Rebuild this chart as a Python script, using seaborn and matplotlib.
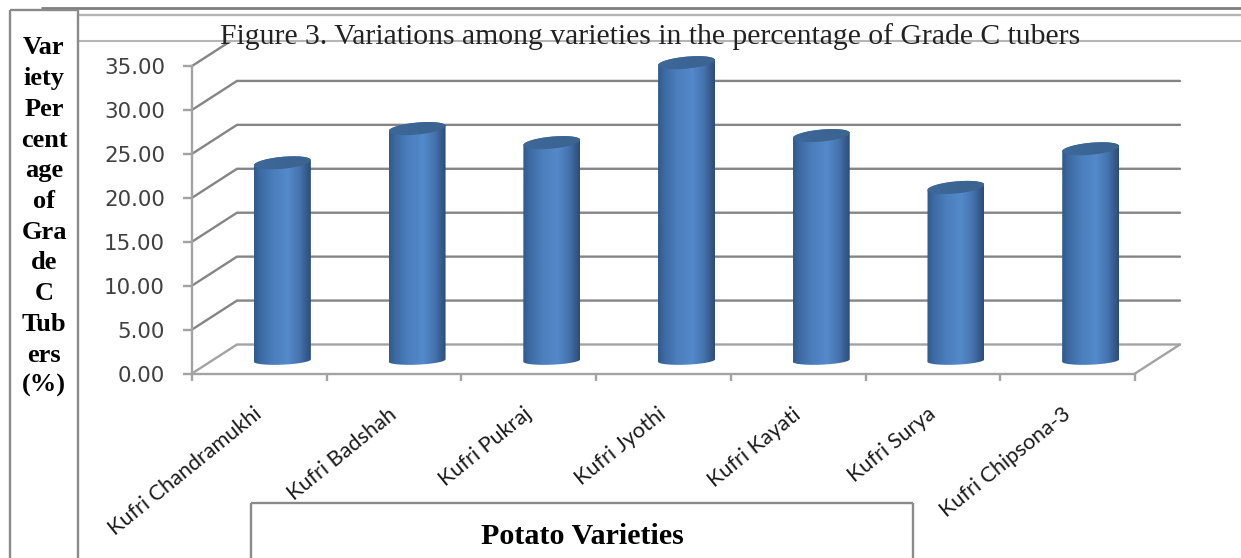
import numpy as np
import matplotlib
matplotlib.use("Agg")
import matplotlib.pyplot as plt
from matplotlib.colors import LinearSegmentedColormap
from matplotlib.lines import Line2D
from matplotlib.patches import PathPatch, Rectangle
from matplotlib.path import Path
from matplotlib.transforms import ScaledTranslation
import pandas as pd
import seaborn as sns

varieties = ["Kufri Chandramukhi", "Kufri Badshah", "Kufri Pukraj", "Kufri Jyothi",
             "Kufri Kayati", "Kufri Surya", "Kufri Chipsona-3"]
grade_c_percent = [22.5, 26.4, 24.8, 33.9, 25.6, 19.7, 24.1]
y_ticks = [0, 5, 10, 15, 20, 25, 30, 35]
title_text = "Figure 3. Variations among varieties in the percentage of Grade C tubers"
side_label = ["Var", "iety", "Per", "cent", "age", "of", "Gra", "de", "C", "Tub", "ers", "(%)"]
bottom_label = "Potato Varieties"

W, H, DPI = 1241, 558, 100
sns.set_style("white")
plt.rcParams["font.family"] = ["DejaVu Sans"]

fig = plt.figure(figsize=(W / DPI, H / DPI), dpi=DPI, facecolor="white")


def fx(px):
    return px / W


def fy(py):
    return 1 - py / H


# Front plane of the plot box, in figure pixels
LEFT, RIGHT, TOP, BOTTOM = 192, 1135, 66, 373.5
ax = fig.add_axes([fx(LEFT), fy(BOTTOM), fx(RIGHT - LEFT), (BOTTOM - TOP) / H])
ax.patch.set_alpha(0)

table = pd.DataFrame({"variety": varieties, "percent": grade_c_percent})
sns.barplot(data=table, x="variety", y="percent", width=0.423, color="#4a7ebb",
            ax=ax, zorder=2)
ax.set_xlim(-0.5, len(varieties) - 0.5)
ax.set_ylim(0, 35)
ax.set_xlabel("")
ax.set_ylabel("")

px_x = (RIGHT - LEFT) / len(varieties)
px_y = (BOTTOM - TOP) / 35

# Depth of the 3D box: the back wall and the bars sit up and to the right of the front plane
BACK_DX, BACK_DY = 45, 29
BAR_DX, BAR_DY = 23, 13
back_dx, back_dy = BACK_DX / px_x, BACK_DY / px_y
bar_dx, bar_dy = BAR_DX / px_x, BAR_DY / px_y

GRID = "#858585"
AXIS = "#a3a3a3"
x0, x1 = ax.get_xlim()
for tick in y_ticks:
    colour = AXIS if tick == 0 else GRID
    ax.plot([x0, x0 + back_dx, x1 + back_dx if tick <= 30 else x0 + back_dx],
            [tick, tick + back_dy, tick + back_dy],
            color=colour, lw=1.7, clip_on=False, zorder=1, solid_joinstyle="miter")
# Right edge of the floor
ax.plot([x1, x1 + back_dx], [0, back_dy], color=AXIS, lw=1.7, clip_on=False, zorder=1)


# Cylinders are built on top of the bars seaborn laid out
body_cmap = LinearSegmentedColormap.from_list(
    "body", [(0, "#2f5a8e"), (0.12, "#3d6ba3"), (0.35, "#4b7fbd"), (0.6, "#5489cb"),
             (0.8, "#4674ae"), (0.93, "#355a8b"), (1, "#2e4b73")])
lid_cmap = LinearSegmentedColormap.from_list(
    "lid", [(0, "#3e6899"), (0.5, "#3b6594"), (1, "#3c6490")])
gradient = np.linspace(0, 1, 256).reshape(1, -1)
t = np.linspace(0, np.pi, 80)

for bar in list(ax.patches):
    left = bar.get_x() + bar_dx
    width = bar.get_width()
    value = bar.get_height() + bar_dy
    cx, half = left + width / 2, width / 2
    base = bar_dy

    lid_h, lid_tilt = 6.0 / px_y, 2.6 / px_y
    foot_h, foot_tilt = 4.2 / px_y, 1.2 / px_y

    # Lower arc of the foot, right to left, then the upper arc of the lid back
    foot_x = cx + half * np.cos(t)
    foot_y = base - foot_h * np.sin(t) + foot_tilt * np.cos(t)
    lid_x = cx + half * np.cos(t)
    lid_up = value + lid_h * np.sin(t) + lid_tilt * np.cos(t)
    lid_down = value - lid_h * np.sin(t) + lid_tilt * np.cos(t)

    body_path = Path(np.vstack([
        np.column_stack([foot_x, foot_y]),
        np.column_stack([lid_x[::-1], lid_up[::-1]]),
        [[foot_x[0], foot_y[0]]],
    ]))
    lid_path = Path(np.vstack([
        np.column_stack([lid_x, lid_up]),
        np.column_stack([lid_x[::-1], lid_down[::-1]]),
    ]))

    bar.set_visible(False)
    for path, cmap, z in ((body_path, body_cmap, 3), (lid_path, lid_cmap, 4)):
        clip = PathPatch(path, transform=ax.transData, facecolor="none", edgecolor="none")
        ax.add_patch(clip)
        image = ax.imshow(gradient, cmap=cmap, aspect="auto", zorder=z,
                          extent=(left, left + width, -2, 38), interpolation="bilinear")
        image.set_clip_path(clip)
        image.set_clip_box(fig.bbox)
ax.set_xlim(x0, x1)
ax.set_ylim(0, 35)

# Axis spines, ticks and labels
for side in ("top", "right"):
    ax.spines[side].set_visible(False)
for side in ("left", "bottom"):
    ax.spines[side].set_color(AXIS)
    ax.spines[side].set_linewidth(1.7)

ax.set_yticks(y_ticks)
ax.set_yticklabels([f"{v:.2f}" for v in y_ticks], fontsize=15.4, color="#404040")
ax.tick_params(axis="y", length=6.5, width=1.7, color=AXIS, pad=13, left=True)

ax.set_xticks(np.arange(x0, x1 + 0.5), minor=True)
ax.tick_params(axis="x", which="minor", length=5, width=1.7, color=AXIS, bottom=True)
ax.set_xticks(range(len(varieties)))
ax.set_xticklabels(varieties, rotation=39, ha="right", va="top", rotation_mode="anchor",
                   fontsize=15.6, color="#1a1a1a", family=["Lato", "DejaVu Sans"])
ax.tick_params(axis="x", which="major", length=0, pad=22)
shift = ScaledTranslation(-6 / DPI, 0, fig.dpi_scale_trans)
for label in ax.get_xticklabels():
    label.set_transform(label.get_transform() + shift)

# Page furniture around the chart
SERIF = ["Liberation Serif", "DejaVu Serif"]
fig.patches.append(Rectangle((fx(80), fy(40)), 1 - fx(80), 23 / H, transform=fig.transFigure,
                             facecolor="white", edgecolor="none", zorder=5, figure=fig))


def rule(x_a, y_a, x_b, y_b, colour, lw=1.7):
    fig.add_artist(Line2D([fx(x_a), fx(x_b)], [fy(y_a), fy(y_b)], color=colour, lw=lw, zorder=6,
                          solid_capstyle="butt"))


rule(41, 8, W, 8, "#7f7f7f", 2.0)
rule(78, 15, W, 15, "#b5b5b5", 1.7)
rule(78, 41, W, 41, "#b5b5b5", 1.5)
rule(10, 10, 78, 10, "#8a8a8a", 1.7)
rule(10, 10, 10, H, "#8a8a8a", 1.7)
rule(78, 10, 78, H, "#8a8a8a", 1.7)
rule(251, 503, 913, 503, "#8a8a8a", 1.7)
rule(251, 503, 251, H, "#8a8a8a", 1.7)
rule(913, 503, 913, H, "#8a8a8a", 1.7)

fig.text(fx(650), fy(44), title_text, ha="center", va="baseline", fontsize=21.3,
         family=SERIF, color="#222222", zorder=7)

for i, piece in enumerate(side_label):
    fig.text(fx(44), fy(48 + i * 30.7), piece, ha="center", va="center", fontsize=19,
             fontweight="bold", family=SERIF, color="black", zorder=7)

fig.text(fx(582), fy(536), bottom_label, ha="center", va="center", fontsize=21.6,
         fontweight="bold", family=SERIF, color="black", zorder=7)

fig.savefig("out.png", dpi=DPI)
